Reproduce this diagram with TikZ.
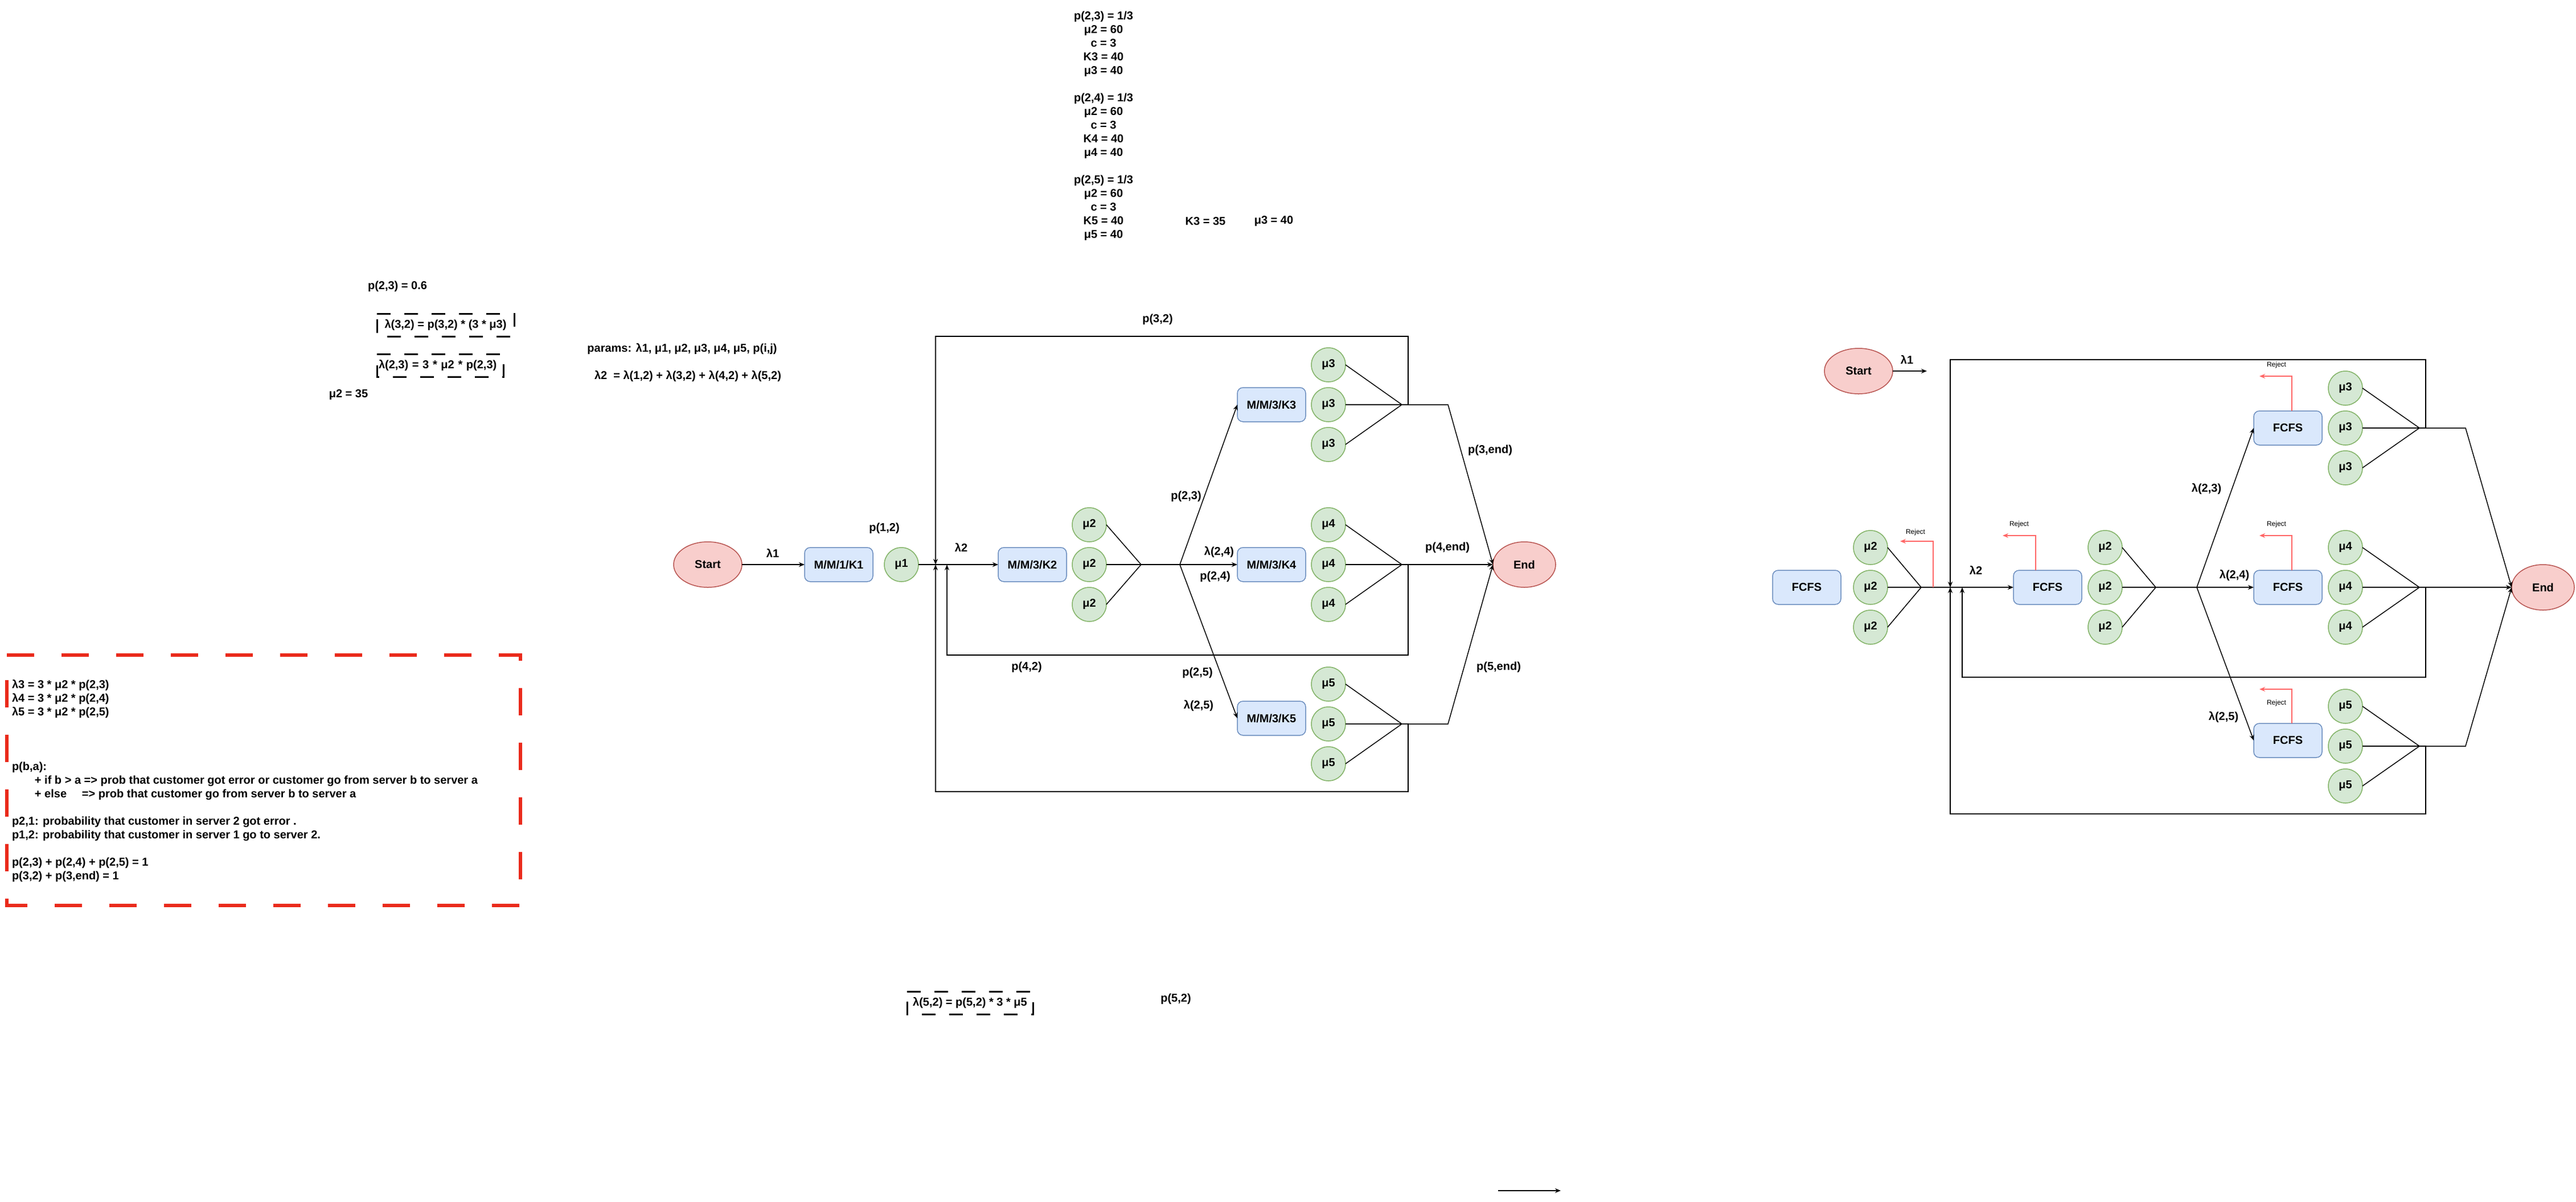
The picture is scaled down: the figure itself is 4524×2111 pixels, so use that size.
\documentclass[tikz,border=0pt]{standalone}
\usepackage{fontspec}
\setmainfont{Liberation Sans}
\usetikzlibrary{shapes.geometric}
\usetikzlibrary{arrows.meta}
\definecolor{qfill}{HTML}{DAE8FC}
\definecolor{qline}{HTML}{6C8EBF}
\definecolor{sfill}{HTML}{D5E8D4}
\definecolor{sline}{HTML}{82B366}
\definecolor{tfill}{HTML}{F8CECC}
\definecolor{tline}{HTML}{B85450}
\definecolor{rejcolor}{HTML}{FF6666}
\definecolor{notecolor}{HTML}{EA2A1B}
\tikzstyle{every node}=[font=\bfseries\fontsize{10}{12}\selectfont, inner sep=0, outer sep=0]
\tikzstyle{queue}=[rectangle, rounded corners=5pt, draw=qline, fill=qfill, minimum width=60pt, minimum height=30pt]
\tikzstyle{server}=[circle, draw=sline, fill=sfill, minimum size=30pt]
\tikzstyle{terminal}=[ellipse, draw=tline, fill=tfill, minimum width=60pt, minimum height=40pt]
\tikzstyle{reject}=[->, draw=rejcolor]
\tikzstyle{rejtext}=[font=\fontsize{6}{7}\selectfont]
\tikzstyle{dashbox}=[line width=1.5pt, dash pattern=on 12pt off 12pt]
\tikzstyle{notebox}=[draw=notecolor, line width=3pt, dash pattern=on 24pt off 24pt]
\newcommand{\queuenode}[3]{\node[queue] (#1) at (#2) {#3};}
\newcommand{\labelnode}[3]{\node (#1) at (#2) {#3};}

\begin{document}
\begin{tikzpicture}[x=0.5pt, y=-0.5pt, line width=0.75pt, >={Stealth[length=5pt,width=4pt]}]
\useasboundingbox[fill=white] (0,0) rectangle (4524,2111);

\newcommand{\servers}[5]{
\node[server] (#11) at (#2,#3-70) {#4};
\node[server] (#12) at (#2,#3) {#4};
\node[server] (#13) at (#2,#3+70) {#4};
\coordinate (#1j) at (#2+#5,#3);
\draw (#11.east) -- (#1j);
\draw (#12) -- (#1j);
\draw (#13.east) -- (#1j);
}

\node[align=center] (pars) at (1938,221) {p(2,3) = 1/3\\ μ2 = 60\\ c = 3\\ K3 = 40\\ μ3 = 40\\[12pt]
p(2,4) = 1/3\\ μ2 = 60\\ c = 3\\ K4 = 40\\ μ4 = 40\\[12pt]
p(2,5) = 1/3\\ μ2 = 60\\ c = 3\\ K5 = 40\\ μ5 = 40};
\labelnode{k3val}{2117,389}{K3 = 35}
\labelnode{m3val}{2237,389}{μ3 = 40}

\labelnode{p23val}{698,503}{p(2,3) = 0.6}
\labelnode{m2val}{612,694}{μ2 = 35}
\labelnode{plist}{1198,613}{params: λ1, μ1, μ2, μ3, μ4, μ5, p(i,j)}
\labelnode{lsum}{1208,661}{λ2\ \ = λ(1,2) + λ(3,2) + λ(4,2) + λ(5,2)}
\node[minimum width=120.5pt, minimum height=20pt] (eq1) at (782.5,571) {λ(3,2) = p(3,2) * (3 * μ3)};
\draw[dashbox] (eq1.north west) -- (eq1.north east) -- (eq1.south east) -- (eq1.south west) -- cycle;
\node[minimum height=20pt, text width=108pt, inner xsep=1.5pt, align=left] (eq2) at (773,642) {λ(2,3) = 3 * μ2 * p(2,3)};
\draw[dashbox] (eq2.north west) -- (eq2.north east) -- (eq2.south east) -- (eq2.south west) -- cycle;
\node[minimum width=110.5pt, minimum height=20pt] (eq3) at (1703.5,1762) {λ(5,2) = p(5,2) * 3 * μ5};
\draw[dashbox] (eq3.north west) -- (eq3.north east) -- (eq3.south east) -- (eq3.south west) -- cycle;
\labelnode{p52}{2065,1755}{p(5,2)}

\node[minimum width=451pt, minimum height=220pt] (note) at (463,1371) {};
\draw[notebox] (note.north west) -- (note.north east) -- (note.south east) -- (note.south west) -- cycle;
\node[anchor=west, align=left] (notetext) at (21,1372) {λ3 = 3 * μ2 * p(2,3)\\
λ4 = 3 * μ2 * p(2,4)\\
λ5 = 3 * μ2 * p(2,5)\\[36pt]
p(b,a):\\
\hspace*{20pt}+ if b > a => prob that customer got error or customer go from server b to server a\\
\hspace*{20pt}\makebox[41.5pt][l]{+ else}=> prob that customer go from server b to server a\\[12pt]
p2,1: probability that customer in server 2 got error .\\
p1,2: probability that customer in server 1 go to server 2.\\[12pt]
p(2,3) + p(2,4) + p(2,5) = 1\\
p(3,2) + p(3,end) = 1};

\node[terminal] (s1) at (1243,992) {Start};
\queuenode{k1}{1473,992}{M/M/1/K1}
\node[server] (u1) at (1583,992) {μ1};
\queuenode{k2}{1813,992}{M/M/3/K2}
\servers{ma}{1913}{992}{μ2}{91}
\queuenode{k3}{2233,711}{M/M/3/K3}
\queuenode{k4}{2233,992}{M/M/3/K4}
\queuenode{k5}{2233,1262}{M/M/3/K5}
\servers{mb}{2333}{711}{μ3}{129}
\servers{mc}{2333}{992}{μ4}{129}
\servers{md}{2333}{1272}{μ5}{129}
\node[terminal, minimum width=55pt] (e1) at (2677,992) {End};

\coordinate (j1) at (1643,992);
\coordinate (j2) at (1663,992);
\coordinate (sp1) at (2072,992);
\coordinate (t1) at (2473,591);
\coordinate (t2) at (2473,1151);
\coordinate (t3) at (2473,1391);
\coordinate (b1) at (2543,711);
\coordinate (b2) at (2543,1272);

\draw[->] (s1) -- (k1);
\draw[->] (u1) -- (k2);
\draw (maj) -- (sp1);
\draw[->] (sp1) -- (k3.west);
\draw[->] (sp1) -- (k4);
\draw[->] (sp1) -- (k5.west);
\draw[->] (mbj) -- (b1) -- (e1.west);
\draw[->] (mcj) -- (e1);
\draw[->] (mdj) -- (b2) -- (e1.west);
\draw[->] (mbj) -| (t1) -| (j1);
\draw[->] (mcj) -| (t2) -| (j2);
\draw[->] (mdj) -| (t3) -| (j1);

\labelnode{l1}{1357,972}{λ1}
\labelnode{l2}{1553,928}{p(1,2)}
\labelnode{l3}{1688,962}{λ2}
\labelnode{l4}{2033,561}{p(3,2)}
\labelnode{l5}{1803,1172}{p(4,2)}
\labelnode{l6}{2083,872}{p(2,3)}
\labelnode{l7}{2141,970}{λ(2,4)}
\labelnode{l8}{2134,1013}{p(2,4)}
\labelnode{l9}{2103,1182}{p(2,5)}
\labelnode{l10}{2105,1240}{λ(2,5)}
\labelnode{l11}{2617,791}{p(3,end)}
\labelnode{l12}{2542,962}{p(4,end)}
\labelnode{l13}{2632,1172}{p(5,end)}

\node[terminal] (s2) at (3264,652) {Start};
\coordinate (a1) at (3384,652);
\draw[->] (s2) -- (a1);
\queuenode{f0}{3173,1032}{FCFS}
\servers{ra}{3285}{1032}{μ2}{89}
\queuenode{f1}{3596,1032}{FCFS}
\servers{rb}{3697}{1032}{μ2}{89}
\queuenode{f3}{4018,752}{FCFS}
\queuenode{f4}{4018,1032}{FCFS}
\queuenode{f5}{4018,1301}{FCFS}
\servers{rc}{4119}{752}{μ3}{130}
\servers{rd}{4119}{1032}{μ4}{130}
\servers{re}{4119}{1311}{μ5}{130}
\node[terminal, minimum width=55pt] (e2) at (4466,1032) {End};

\coordinate (j3) at (3425,1032);
\coordinate (j4) at (3446,1032);
\coordinate (sp2) at (3858,1032);
\coordinate (t4) at (4260,632);
\coordinate (t5) at (4260,1190);
\coordinate (t6) at (4260,1430);
\coordinate (b3) at (4330,752);
\coordinate (b4) at (4330,1311);
\coordinate (rx) at (3395,1032);
\coordinate (rj0) at (3337,951);
\coordinate (rj1) at (3517,941);
\coordinate (rj3) at (3968,661);
\coordinate (rj4) at (3968,941);
\coordinate (rj5) at (3968,1211);

\draw[->] (raj) -- (f1);
\draw (rbj) -- (sp2);
\draw[->] (sp2) -- (f3.west);
\draw[->] (sp2) -- (f4);
\draw[->] (sp2) -- (f5.west);
\draw[->] (rcj) -- (b3) -- (e2.west);
\draw[->] (rdj) -- (e2);
\draw[->] (rej) -- (b4) -- (e2.west);
\draw[->] (rcj) -| (t4) -| (j3);
\draw[->] (rdj) -| (t5) -| (j4);
\draw[->] (rej) -| (t6) -| (j3);
\draw[reject] (rx) |- (rj0);
\draw[reject] ([xshift=-10.5pt]f1.north) |- (rj1);
\draw[reject] ([xshift=3.5pt]f3.north) |- (rj3);
\draw[reject] ([xshift=3.5pt]f4.north) |- (rj4);
\draw[reject] ([xshift=3.5pt]f5.north) |- (rj5);

\labelnode{r1}{3349,632}{λ1}
\labelnode{r2}{3470,1002}{λ2}
\labelnode{r3}{3875,859}{λ(2,3)}
\labelnode{r4}{3924,1011}{λ(2,4)}
\labelnode{r5}{3905,1260}{λ(2,5)}
\node[rejtext] (x0) at (3364,935) {Reject};
\node[rejtext] (x1) at (3546,921) {Reject};
\node[rejtext] (x3) at (3998,641) {Reject};
\node[rejtext] (x4) at (3998,921) {Reject};
\node[rejtext] (x5) at (3998,1235) {Reject};

\coordinate (z1) at (2631,2092);
\coordinate (z2) at (2741,2092);
\draw[->] (z1) -- (z2);
\end{tikzpicture}
\end{document}
